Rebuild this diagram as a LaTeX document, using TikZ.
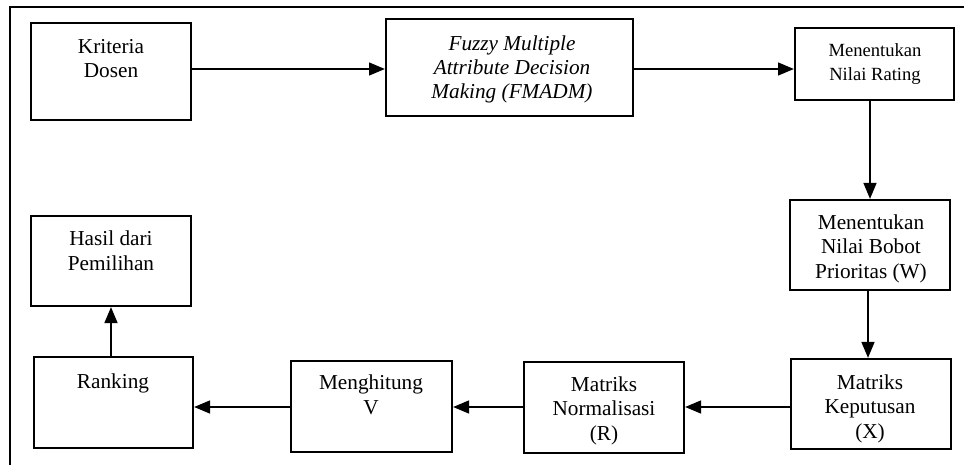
\documentclass[tikz,border=0pt]{standalone}
\usepackage{fontspec}
\setmainfont{Liberation Serif}
\usetikzlibrary{arrows.meta,fit}

\begin{document}
\begin{tikzpicture}[
    x=0.5645pt, y=-0.5645pt,
    line width=1.2pt,
    box/.style={draw, rectangle, inner sep=0pt, line width=1.2pt},
    % texts are placed by the baseline of their last line
    txt/.style={align=center, inner sep=0pt, anchor=base,
                font=\fontsize{12}{13.8}\selectfont},
    smalltxt/.style={txt, font=\fontsize{10.5}{13.5}\selectfont},
    arr/.style={-{Triangle[length=9pt,width=7.2pt]}, line width=1.2pt}
  ]
  \useasboundingbox (0,0) rectangle (964,465);

  % frame: top and left edges
  \coordinate (frameR) at (964,7);
  \coordinate (frameC) at (10,7);
  \coordinate (frameB) at (10,465);
  \draw[line width=1.2pt] (frameR) -- (frameC) -- (frameB);

  % boxes
  \node[box, fit={(31,23) (191,120)}]  (kd) {};
  \node[box, fit={(386,19) (633,116)}] (fm) {};
  \node[box, fit={(795,28) (954,100)}] (nr) {};
  \node[box, fit={(790,200) (950,290)}] (nb) {};
  \node[box, fit={(791,359) (951,449)}] (mk) {};
  \node[box, fit={(524,362) (684,453)}] (mn) {};
  \node[box, fit={(291,361) (452,452)}] (mv) {};
  \node[box, fit={(34,357) (193,448)}]  (rk) {};
  \node[box, fit={(31,216) (191,306)}]  (hp) {};

  % box texts
  \node[txt] (kdt) at (111,78) {Kriteria\\Dosen};
  \node[txt] (fmt) at (512,99) {\itshape Fuzzy Multiple\\\itshape Attribute Decision\\\itshape Making (FMADM)};
  \node[smalltxt] (nrt) at (875,80) {Menentukan\\Nilai Rating};
  \node[txt] (nbt) at (871,278) {Menentukan\\Nilai Bobot\\Prioritas (W)};
  \node[txt] (mkt) at (870,438) {Matriks\\Keputusan\\(X)};
  \node[txt] (mnt) at (604,440) {Matriks\\Normalisasi\\(R)};
  \node[txt] (mvt) at (371,414) {Menghitung\\V};
  \node[txt] (rkt) at (113,388) {Ranking};
  \node[txt] (hpt) at (111,270) {Hasil dari\\Pemilihan};

  % connectors
  \draw[arr] (kd.east |- 0,69) -- (fm.west |- 0,69);
  \draw[arr] (fm.east |- 0,69) -- (nr.west |- 0,69);
  \draw[arr] (nr.south -| 870,0) -- (nb.north -| 870,0);
  \draw[arr] (nb.south -| 868,0) -- (mk.north -| 868,0);
  \draw[arr] (mk.west |- 0,407) -- (mn.east |- 0,407);
  \draw[arr] (mn.west |- 0,407) -- (mv.east |- 0,407);
  \draw[arr] (mv.west |- 0,407) -- (rk.east |- 0,407);
  \draw[arr] (rk.north -| 111,0) -- (hp.south -| 111,0);
\end{tikzpicture}
\end{document}
